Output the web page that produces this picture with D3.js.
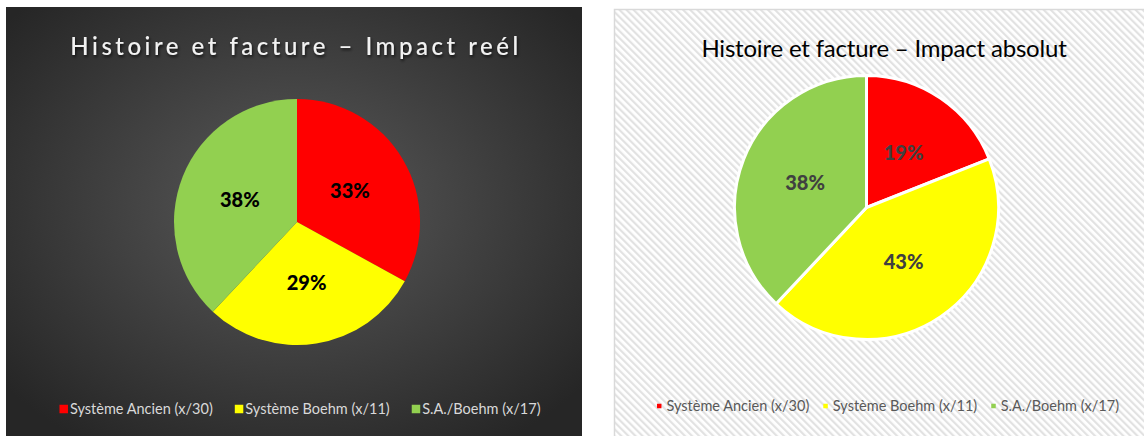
<!DOCTYPE html>
<html>
<head>
<meta charset="utf-8">
<script src="https://cdn.jsdelivr.net/npm/d3@7"></script>
<style>
  body { margin: 0; background: #ffffff; }
  svg { display: block; }
</style>
</head>
<body>
<svg id="chart"></svg>
<script>
var width = 1144;
var height = 436;

// données
var categories = ["Système Ancien (x/30)", "Système Boehm (x/11)", "S.A./Boehm (x/17)"];
var colors = ["#ff0000", "#ffff00", "#92d050"];
var impactReel = [33, 29, 38];
var impactAbsolu = [19, 43, 38];
var titles = ["Histoire et facture \u2013 Impact reél", "Histoire et facture \u2013 Impact absolut"];

var svg = d3.select("#chart").attr("width", width).attr("height", height);
var defs = svg.append("defs");

var grad = defs.append("radialGradient").attr("id", "darkbg")
  .attr("cx", "50%").attr("cy", "45%").attr("r", "65%");
grad.append("stop").attr("offset", "0%").attr("stop-color", "#5a5a5a");
grad.append("stop").attr("offset", "100%").attr("stop-color", "#262626");

var hatch = defs.append("pattern").attr("id", "hatch")
  .attr("patternUnits", "userSpaceOnUse")
  .attr("width", 5).attr("height", 5)
  .attr("patternTransform", "rotate(-45)");
hatch.append("rect").attr("width", 5).attr("height", 5).attr("fill", "#ffffff");
hatch.append("rect").attr("width", 2.2).attr("height", 5).attr("fill", "#e2e2e2");

var shadow = defs.append("filter").attr("id", "tshadow")
  .attr("x", "-10%").attr("y", "-30%").attr("width", "120%").attr("height", "160%");
shadow.append("feDropShadow").attr("dx", 1).attr("dy", 2).attr("stdDeviation", 1.5)
  .attr("flood-color", "#000").attr("flood-opacity", 0.7);

var font = "Lato, 'Open Sans', sans-serif";

// ---- panneau gauche
var left = svg.append("g").attr("class", "left");
left.append("rect").attr("x", 6).attr("y", 7).attr("width", 576).attr("height", 440)
  .attr("fill", "url(#darkbg)");

// ---- panneau droit
var right = svg.append("g").attr("class", "right");
right.append("rect").attr("x", 614.5).attr("y", 9.5).attr("width", 560).attr("height", 460)
  .attr("fill", "url(#hatch)").attr("stroke", "#d9d9d9").attr("stroke-width", 1.5);

function drawPie(g, values, cx, cy, r, opt) {
  var pie = d3.pie().sort(null).value(function(d){ return d; });
  var arc = d3.arc().innerRadius(0).outerRadius(r);
  var arcs = pie(values);
  var pg = g.append("g").attr("transform", "translate(" + cx + "," + cy + ")");
  pg.selectAll("path").data(arcs).enter().append("path")
    .attr("d", arc)
    .attr("fill", function(d, i){ return colors[i]; })
    .attr("stroke", opt.stroke)
    .attr("stroke-width", opt.strokeWidth);
  pg.selectAll("text").data(arcs).enter().append("text")
    .attr("transform", function(d){ return "translate(" + arc.centroid(d) + ")"; })
    .attr("text-anchor", "middle")
    .attr("dy", "0.36em")
    .attr("font-family", font)
    .attr("font-weight", "900")
    .attr("font-size", 20)
    .attr("fill", opt.labelColor)
    .text(function(d){ return d.value + "%"; });
}

function drawLegend(g, cx, y, opt) {
  var items = g.append("g").attr("class", "legend");
  var x = 0;
  categories.forEach(function(c, i) {
    var it = items.append("g");
    it.append("rect").attr("x", x).attr("y", y - opt.sq / 2)
      .attr("width", opt.sq).attr("height", opt.sq).attr("fill", colors[i]);
    var t = it.append("text").attr("x", x + opt.sq + opt.gap).attr("y", y)
      .attr("dy", "0.35em")
      .attr("font-family", font).attr("font-size", opt.size)
      .attr("fill", opt.color).text(c);
    x += opt.sq + opt.gap + t.node().getComputedTextLength() + opt.spacing;
  });
  x -= opt.spacing;
  items.attr("transform", "translate(" + (cx - x / 2) + ",0)");
}

left.append("text").attr("x", 296).attr("y", 55)
  .attr("text-anchor", "middle")
  .attr("font-family", font).attr("font-size", 24)
  .attr("font-weight", "500")
  .attr("letter-spacing", 3.5)
  .attr("fill", "#f2f2f2").attr("filter", "url(#tshadow)")
  .text(titles[0]);

right.append("text").attr("x", 884).attr("y", 57)
  .attr("text-anchor", "middle")
  .attr("font-family", font).attr("font-size", 24)
  .attr("letter-spacing", -0.2)
  .attr("fill", "#000000")
  .text(titles[1]);

drawPie(left, impactReel, 297, 222, 123, {stroke: "none", strokeWidth: 0, labelColor: "#000000"});
drawPie(right, impactAbsolu, 866.5, 207.5, 132, {stroke: "#ffffff", strokeWidth: 3, labelColor: "#404040"});

drawLegend(left, 300, 409, {sq: 8.5, gap: 2, size: 14.5, color: "#d9d9d9", spacing: 22});
drawLegend(right, 888, 406, {sq: 4.5, gap: 5, size: 14.5, color: "#595959", spacing: 14});
</script>
</body>
</html>
